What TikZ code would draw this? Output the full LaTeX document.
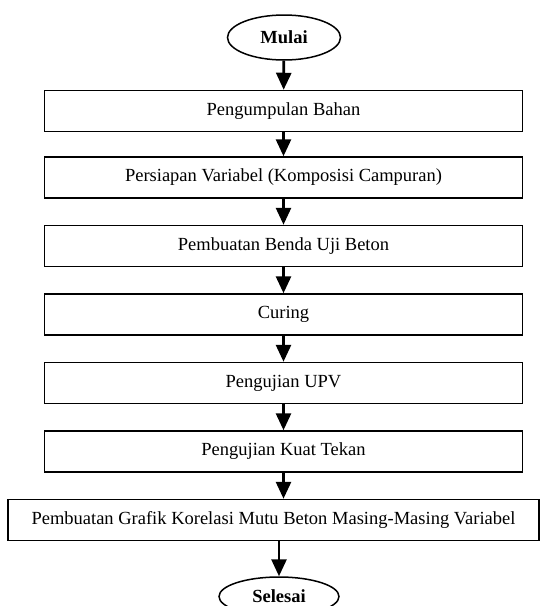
\documentclass[tikz,border=0pt]{standalone}
\usepackage{fontspec}
\setmainfont{Liberation Serif}
\usetikzlibrary{arrows.meta, positioning, shapes.geometric}

\begin{document}
\begin{tikzpicture}[
      x=1pt, y=1pt,
      box/.style={draw, line width=1.5pt, minimum width=478pt,
                  minimum height=41pt, inner sep=0pt,
                  font=\fontsize{18.5}{22}\selectfont},
      term/.style={draw, ellipse, line width=1.5pt, inner sep=0pt,
                   font=\fontsize{18.5}{22}\selectfont\bfseries},
      arr/.style={-{Triangle[length=17pt, width=15pt]}, line width=2.8pt}
    ]
      \useasboundingbox (0,0) rectangle (540,-606);
      \node[term, minimum width=113pt, minimum height=45pt] (mulai) at (284,-37.5) {Mulai};
      \node[box, below=29pt of mulai.south, anchor=north, xshift=-0.5pt] (bahan) {Pengumpulan Bahan};
      \node[box, below=24pt of bahan]   (variabel) {Persiapan Variabel (Komposisi Campuran)};
      \node[box, below=26pt of variabel] (benda)   {Pembuatan Benda Uji Beton};
      \node[box, below=26pt of benda]    (curing)  {Curing};
      \node[box, below=26pt of curing]   (upv)     {Pengujian UPV};
      \node[box, below=26pt of upv]      (tekan)   {Pengujian Kuat Tekan};
      \node[box, minimum width=531pt, below=26pt of tekan, xshift=-10pt] (grafik)
           {Pembuatan Grafik Korelasi Mutu Beton Masing-Masing Variabel};
      \node[term, minimum width=120pt, minimum height=39pt,
            below=35pt of grafik.south, anchor=north, xshift=5.5pt] (selesai) {Selesai};
      \draw[arr] (mulai)    -- (bahan);
      \draw[arr] (bahan)    -- (variabel);
      \draw[arr] (variabel) -- (benda);
      \draw[arr] (benda)    -- (curing);
      \draw[arr] (curing)   -- (upv);
      \draw[arr] (upv)      -- (tekan);
      \draw[arr] (tekan)    -- (tekan |- grafik.north);
      \draw[arr] (grafik.south -| selesai) -- (selesai);
    \end{tikzpicture}
\end{document}
